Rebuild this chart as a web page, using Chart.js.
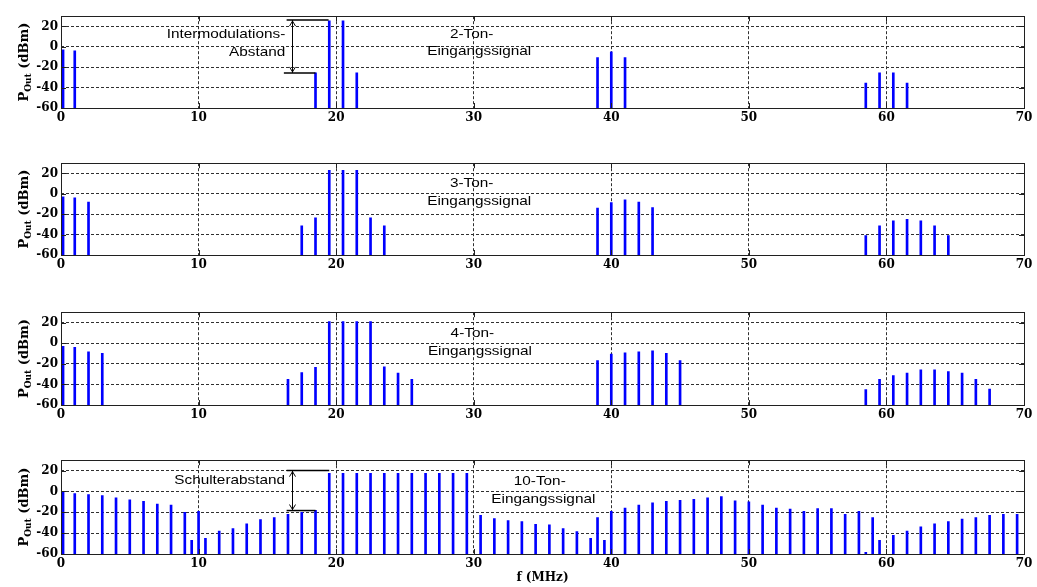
<!DOCTYPE html>
<html>
<head>
<meta charset="utf-8">
<script src="https://cdn.jsdelivr.net/npm/chart.js@4.4.1/dist/chart.umd.min.js"></script>
<style>
  html, body { margin: 0; padding: 0; background: #fff; overflow: hidden; }
  #wrap { position: relative; width: 1037px; height: 587px; }
  #wrap canvas { position: absolute; left: 0; }
</style>
</head>
<body>
<div id="wrap">
  <canvas id="c1" width="1037" height="126" style="top:6px"></canvas>
  <canvas id="c2" width="1037" height="126" style="top:153px"></canvas>
  <canvas id="c3" width="1037" height="127" style="top:302px"></canvas>
  <canvas id="c4" width="1037" height="137" style="top:450px"></canvas>
</div>
<script>
// axis ticks
const xTicks = [0, 10, 20, 30, 40, 50, 60, 70];
const yTicks = [-60, -40, -20, 0, 20];

// 2-Ton-Eingangssignal (f in MHz, P in dBm)
const freq2 = [0.15, 1, 18.5, 19.5, 20.5, 21.5, 39, 40, 41, 58.5, 59.5, 60.5, 61.5];
const pOut2 = [-3, -4, -25.5, 25.5, 25.5, -25.5, -10.5, -5, -10.5, -35.5, -25.5, -25.5, -35.5];

// 3-Ton
const freq3 = [0.15, 1, 2, 17.5, 18.5, 19.5, 20.5, 21.5, 22.5, 23.5,
               39, 40, 41, 42, 43, 58.5, 59.5, 60.5, 61.5, 62.5, 63.5, 64.5];
const pOut3 = [-3, -4, -8, -31.5, -23.5, 23, 23, 23, -23.5, -31.5,
               -14, -8.5, -6, -8, -13.5, -41, -31.5, -26.5, -25, -26.5, -31.5, -41];

// 4-Ton
const freq4 = [0.15, 1, 2, 3, 16.5, 17.5, 18.5, 19.5, 20.5, 21.5, 22.5, 23.5, 24.5, 25.5,
               39, 40, 41, 42, 43, 44, 45,
               58.5, 59.5, 60.5, 61.5, 62.5, 63.5, 64.5, 65.5, 66.5, 67.5];
const pOut4 = [-3, -4, -8.5, -10, -35, -28.5, -23.5, 21, 21, 21, 21, -23, -29, -35,
               -17, -10.5, -9.5, -8.5, -7.5, -10, -17,
               -45, -35, -31.5, -29, -26, -26, -27.5, -29, -35, -44.5];

// 10-Ton
const freq10 = [0.15, 1, 2, 3, 4, 5, 6, 7, 8, 9, 9.5, 10, 10.5,
                11.5, 12.5, 13.5, 14.5, 15.5, 16.5, 17.5, 18.5,
                19.5, 20.5, 21.5, 22.5, 23.5, 24.5, 25.5, 26.5, 27.5, 28.5, 29.5,
                30.5, 31.5, 32.5, 33.5, 34.5, 35.5, 36.5, 37.5, 38.5, 39, 39.5,
                40, 41, 42, 43, 44, 45, 46, 47, 48, 49, 50, 51, 52, 53, 54, 55, 56, 57, 58,
                58.5, 59, 59.5,
                60.5, 61.5, 62.5, 63.5, 64.5, 65.5, 66.5, 67.5, 68.5, 69.5];
const pOut10 = [0, -2, -3, -4, -6, -8, -9.5, -12, -13, -20, -47, -19, -45,
                -38, -35.5, -31, -27, -25, -22, -20, -18,
                17.5, 17.5, 17.5, 17.5, 17.5, 17.5, 17.5, 17.5, 17.5, 17.5, 17.5,
                -23, -26, -28, -29, -31.5, -32, -35.5, -38.5, -45, -25, -47,
                -19, -16, -13, -11, -9.5, -8.5, -7.5, -6, -5, -9, -10, -13, -16, -17, -19, -16.5, -16.5, -22, -19,
                -58.5, -25, -47,
                -42, -38, -34, -31, -29, -26.5, -25, -23, -22, -22];

// text + markers inside the plots (data units)
const notes2 = {
  texts: [["2-Ton-", 29.85, 12.5, "center"], ["Eingangssignal", 30.4, -4.8, "center"],
          ["Intermodulations-", 16.3, 12, "right"], ["Abstand", 16.3, -5.3, "right"]],
  lines: [[16.4, 19.45, 26.2], [16.2, 18.5, -25.6]],
  arrows: [[16.8, 26.2, -25.6]]
};
const notes3 = { texts: [["3-Ton-", 29.85, 9.8, "center"], ["Eingangssignal", 30.4, -7.6, "center"]] };
const notes4 = { texts: [["4-Ton-", 29.9, 9.3, "center"], ["Eingangssignal", 30.45, -7.7, "center"]] };
const notes10 = {
  texts: [["10-Ton-", 34.8, 9.8, "center"], ["Eingangssignal", 35.06, -7.2, "center"],
          ["Schulterabstand", 12.26, 10.4, "center"]],
  lines: [[16.4, 19.5, 20], [16.4, 18.5, -18.3]],
  arrows: [[16.8, 20, -18.3]]
};

const tickFont = { family: "DejaVu Serif", weight: "bold", size: 12 };

const matlabBox = {
  id: "matlabBox",
  afterDraw(chart) {
    const ctx = chart.ctx;
    const a = chart.chartArea;
    const xs = chart.scales.x, ys = chart.scales.y;
    ctx.save();
    ctx.strokeStyle = "#202020";
    ctx.lineWidth = 1;
    // inner tick marks
    ctx.beginPath();
    xTicks.forEach(v => {
      const px = Math.round(xs.getPixelForValue(v)) + 0.5;
      ctx.moveTo(px, a.bottom); ctx.lineTo(px, a.bottom - 5);
      ctx.moveTo(px, a.top); ctx.lineTo(px, a.top + 5);
    });
    yTicks.forEach(v => {
      const py = Math.round(ys.getPixelForValue(v)) + 0.5;
      ctx.moveTo(a.left, py); ctx.lineTo(a.left + 5, py);
      ctx.moveTo(a.right, py); ctx.lineTo(a.right - 5, py);
    });
    ctx.stroke();
    ctx.strokeRect(Math.round(a.left) + 0.5, Math.round(a.top) + 0.5,
                   Math.round(a.right - a.left), Math.round(a.bottom - a.top));

    // y axis label  P_Out (dBm)
    ctx.fillStyle = "#000";
    ctx.translate(28, (a.top + a.bottom) / 2);
    ctx.rotate(-Math.PI / 2);
    ctx.textBaseline = "alphabetic";
    const big = "bold 13px 'DejaVu Serif'", small = "bold 9px 'DejaVu Serif'";
    ctx.font = big; const wP = ctx.measureText("P").width;
    const wRest = ctx.measureText(" (dBm)").width;
    ctx.font = small; const wSub = ctx.measureText("Out").width;
    let x0 = -(wP + wSub + wRest) / 2;
    ctx.font = big; ctx.textAlign = "left";
    ctx.fillText("P", x0, 0);
    ctx.font = small; ctx.fillText("Out", x0 + wP, 3);
    ctx.font = big; ctx.fillText(" (dBm)", x0 + wP + wSub, 0);
    ctx.restore();

    // annotations
    const n = chart.options.plugins.notes || {};
    ctx.save();
    ctx.fillStyle = "#000";
    ctx.font = "13px 'Liberation Sans'";
    ctx.textBaseline = "middle";
    (n.texts || []).forEach(([t, x, y, al]) => {
      ctx.save();
      ctx.translate(xs.getPixelForValue(x), ys.getPixelForValue(y));
      ctx.scale(1.18, 1);
      ctx.textAlign = al;
      ctx.fillText(t, 0, 0);
      ctx.restore();
    });
    ctx.strokeStyle = "#000";
    ctx.lineWidth = 1.5;
    (n.lines || []).forEach(([x1, x2, y]) => {
      const py = ys.getPixelForValue(y);
      ctx.beginPath();
      ctx.moveTo(xs.getPixelForValue(x1), py);
      ctx.lineTo(xs.getPixelForValue(x2), py);
      ctx.stroke();
    });
    ctx.lineWidth = 1;
    (n.arrows || []).forEach(([x, y1, y2]) => {
      const px = Math.round(xs.getPixelForValue(x)) + 0.5;
      const p1 = ys.getPixelForValue(y1), p2 = ys.getPixelForValue(y2);
      ctx.beginPath();
      ctx.moveTo(px, p1); ctx.lineTo(px, p2);
      ctx.moveTo(px - 3, p1 + 6); ctx.lineTo(px, p1 + 1); ctx.lineTo(px + 3, p1 + 6);
      ctx.moveTo(px - 3, p2 - 6); ctx.lineTo(px, p2 - 1); ctx.lineTo(px + 3, p2 - 6);
      ctx.stroke();
    });
    ctx.restore();
  }
};

function makeChart(id, freqs, values, notes, last) {
  return new Chart(document.getElementById(id), {
    type: "bar",
    data: {
      datasets: [{
        data: freqs.map((f, i) => ({ x: f, y: [-60, values[i]] })),
        backgroundColor: "#0000ff",
        borderWidth: 0,
        barThickness: 2
      }]
    },
    options: {
      responsive: false,
      animation: false,
      devicePixelRatio: 1,
      layout: { padding: { top: 6, right: 13, left: 0, bottom: 0 } },
      plugins: { legend: { display: false }, tooltip: { enabled: false }, notes: notes },
      scales: {
        x: {
          type: "linear", min: 0, max: 70, offset: false,
          afterBuildTicks: s => { s.ticks = xTicks.map(v => ({ value: v })); },
          afterFit: s => { s.height = last ? 33 : 24; },
          grid: { color: "#303030", drawTicks: false, offset: false },
          border: { display: false, dash: [3, 2] },
          ticks: { font: tickFont, color: "#000", padding: 3, maxRotation: 0 },
          title: { display: !!last, text: "f (MHz)", font: { family: "DejaVu Serif", weight: "bold", size: 12 },
                   color: "#000", padding: { top: 0, bottom: 2 } }
        },
        y: {
          min: -60, max: 30,
          afterBuildTicks: s => { s.ticks = yTicks.map(v => ({ value: v })); },
          afterFit: s => { s.width = 61; },
          grid: { color: "#303030", drawTicks: false },
          border: { display: false, dash: [3, 2] },
          ticks: { font: tickFont, color: "#000", padding: 3 }
        }
      }
    },
    plugins: [matlabBox]
  });
}

makeChart("c1", freq2, pOut2, notes2, false);
makeChart("c2", freq3, pOut3, notes3, false);
makeChart("c4", freq10, pOut10, notes10, true);
makeChart("c3", freq4, pOut4, notes4, false);
</script>
</body>
</html>
